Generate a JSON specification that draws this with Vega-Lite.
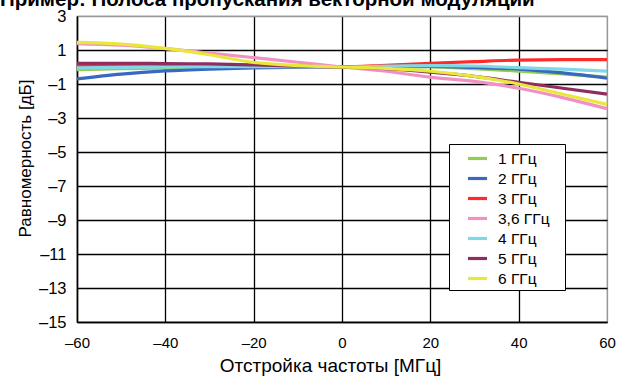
{
  "$schema": "https://vega.github.io/schema/vega-lite/v6.json",
  "width": 530,
  "height": 306,
  "autosize": {"type": "none"},
  "padding": {"left": 77, "top": 16, "right": 11, "bottom": 57},
  "background": "white",
  "title": {
    "text": "Пример: Полоса пропускания векторной модуляции",
    "anchor": "start",
    "frame": "group",
    "font": "Liberation Sans",
    "fontSize": 20.5,
    "fontWeight": "bold",
    "color": "black",
    "dx": -77,
    "offset": -2
  },
  "config": {
    "view": {"stroke": "#999", "strokeWidth": 1.2},
    "axis": {
      "labelFont": "Liberation Sans",
      "titleFont": "Liberation Sans",
      "labelColor": "black",
      "titleColor": "black",
      "titleFontWeight": "normal",
      "ticks": false,
      "domainColor": "black",
      "domainWidth": 1.5,
      "gridWidth": 1.3,
      "gridOpacity": 1
    }
  },
  "data": {
    "values": [
      {"f": -60, "v": -0.15, "s": "1 ГГц"}, {"f": -50, "v": -0.1, "s": "1 ГГц"}, {"f": -40, "v": -0.05, "s": "1 ГГц"}, {"f": -30, "v": 0, "s": "1 ГГц"}, {"f": -20, "v": 0.02, "s": "1 ГГц"}, {"f": -10, "v": 0.01, "s": "1 ГГц"}, {"f": 0, "v": 0, "s": "1 ГГц"}, {"f": 10, "v": 0, "s": "1 ГГц"}, {"f": 20, "v": 0, "s": "1 ГГц"}, {"f": 30, "v": -0.1, "s": "1 ГГц"}, {"f": 40, "v": -0.24, "s": "1 ГГц"}, {"f": 50, "v": -0.4, "s": "1 ГГц"}, {"f": 60, "v": -0.6, "s": "1 ГГц"},
      {"f": -60, "v": -0.7, "s": "2 ГГц"}, {"f": -50, "v": -0.42, "s": "2 ГГц"}, {"f": -40, "v": -0.23, "s": "2 ГГц"}, {"f": -30, "v": -0.12, "s": "2 ГГц"}, {"f": -20, "v": -0.05, "s": "2 ГГц"}, {"f": -10, "v": -0.02, "s": "2 ГГц"}, {"f": 0, "v": 0, "s": "2 ГГц"}, {"f": 10, "v": 0.02, "s": "2 ГГц"}, {"f": 20, "v": 0.03, "s": "2 ГГц"}, {"f": 30, "v": -0.03, "s": "2 ГГц"}, {"f": 40, "v": -0.12, "s": "2 ГГц"}, {"f": 50, "v": -0.35, "s": "2 ГГц"}, {"f": 60, "v": -0.66, "s": "2 ГГц"},
      {"f": -60, "v": 0.1, "s": "3 ГГц"}, {"f": -50, "v": 0.1, "s": "3 ГГц"}, {"f": -40, "v": 0.08, "s": "3 ГГц"}, {"f": -30, "v": 0.06, "s": "3 ГГц"}, {"f": -20, "v": 0.04, "s": "3 ГГц"}, {"f": -10, "v": 0.02, "s": "3 ГГц"}, {"f": 0, "v": 0, "s": "3 ГГц"}, {"f": 10, "v": 0.1, "s": "3 ГГц"}, {"f": 20, "v": 0.22, "s": "3 ГГц"}, {"f": 30, "v": 0.32, "s": "3 ГГц"}, {"f": 40, "v": 0.41, "s": "3 ГГц"}, {"f": 50, "v": 0.43, "s": "3 ГГц"}, {"f": 60, "v": 0.43, "s": "3 ГГц"},
      {"f": -60, "v": 1.38, "s": "3,6 ГГц"}, {"f": -50, "v": 1.28, "s": "3,6 ГГц"}, {"f": -40, "v": 1.08, "s": "3,6 ГГц"}, {"f": -30, "v": 0.82, "s": "3,6 ГГц"}, {"f": -20, "v": 0.55, "s": "3,6 ГГц"}, {"f": -10, "v": 0.28, "s": "3,6 ГГц"}, {"f": 0, "v": 0, "s": "3,6 ГГц"}, {"f": 10, "v": -0.25, "s": "3,6 ГГц"}, {"f": 20, "v": -0.6, "s": "3,6 ГГц"}, {"f": 30, "v": -0.85, "s": "3,6 ГГц"}, {"f": 40, "v": -1.25, "s": "3,6 ГГц"}, {"f": 50, "v": -1.8, "s": "3,6 ГГц"}, {"f": 60, "v": -2.45, "s": "3,6 ГГц"},
      {"f": -60, "v": -0.05, "s": "4 ГГц"}, {"f": -50, "v": -0.02, "s": "4 ГГц"}, {"f": -40, "v": 0, "s": "4 ГГц"}, {"f": -30, "v": 0.02, "s": "4 ГГц"}, {"f": -20, "v": 0.02, "s": "4 ГГц"}, {"f": -10, "v": 0.01, "s": "4 ГГц"}, {"f": 0, "v": 0, "s": "4 ГГц"}, {"f": 10, "v": 0.05, "s": "4 ГГц"}, {"f": 20, "v": 0.08, "s": "4 ГГц"}, {"f": 30, "v": 0.06, "s": "4 ГГц"}, {"f": 40, "v": -0.04, "s": "4 ГГц"}, {"f": 50, "v": -0.13, "s": "4 ГГц"}, {"f": 60, "v": -0.25, "s": "4 ГГц"},
      {"f": -60, "v": 0.22, "s": "5 ГГц"}, {"f": -50, "v": 0.22, "s": "5 ГГц"}, {"f": -40, "v": 0.2, "s": "5 ГГц"}, {"f": -30, "v": 0.18, "s": "5 ГГц"}, {"f": -20, "v": 0.12, "s": "5 ГГц"}, {"f": -10, "v": 0.05, "s": "5 ГГц"}, {"f": 0, "v": 0, "s": "5 ГГц"}, {"f": 10, "v": -0.1, "s": "5 ГГц"}, {"f": 20, "v": -0.3, "s": "5 ГГц"}, {"f": 30, "v": -0.55, "s": "5 ГГц"}, {"f": 40, "v": -0.9, "s": "5 ГГц"}, {"f": 50, "v": -1.25, "s": "5 ГГц"}, {"f": 60, "v": -1.6, "s": "5 ГГц"},
      {"f": -60, "v": 1.45, "s": "6 ГГц"}, {"f": -50, "v": 1.35, "s": "6 ГГц"}, {"f": -40, "v": 1.1, "s": "6 ГГц"}, {"f": -30, "v": 0.72, "s": "6 ГГц"}, {"f": -20, "v": 0.27, "s": "6 ГГц"}, {"f": -10, "v": 0.08, "s": "6 ГГц"}, {"f": 0, "v": 0, "s": "6 ГГц"}, {"f": 10, "v": -0.08, "s": "6 ГГц"}, {"f": 20, "v": -0.25, "s": "6 ГГц"}, {"f": 30, "v": -0.55, "s": "6 ГГц"}, {"f": 40, "v": -1.0, "s": "6 ГГц"}, {"f": 50, "v": -1.6, "s": "6 ГГц"}, {"f": 60, "v": -2.2, "s": "6 ГГц"}
    ]
  },
  "mark": {"type": "line", "strokeWidth": 3.2, "interpolate": "monotone"},
  "encoding": {
    "x": {
      "field": "f",
      "type": "quantitative",
      "scale": {"domain": [-60, 60], "nice": false},
      "axis": {
        "values": [-60, -40, -20, 0, 20, 40, 60],
        "title": "Отстройка частоты [МГц]",
        "labelFontSize": 15,
        "titleFontSize": 19,
        "labelPadding": 13,
        "titlePadding": 6,
        "titleX": 253,
        "titleAlign": "center",
        "labelFlush": false,
        "gridColor": {"condition": {"test": "datum.value == 60", "value": "#999"}, "value": "black"},
        "labelExpr": "datum.value < 0 ? '–' + abs(datum.value) : datum.label"
      }
    },
    "y": {
      "field": "v",
      "type": "quantitative",
      "scale": {"domain": [-15, 3], "nice": false},
      "axis": {
        "values": [3, 1, -1, -3, -5, -7, -9, -11, -13, -15],
        "title": "Равномерность [дБ]",
        "labelFontSize": 16.5,
        "titleFontSize": 17,
        "labelPadding": 11,
        "titlePadding": 4,
        "titleY": 142,
        "gridColor": {"condition": {"test": "datum.value == 3", "value": "#999"}, "value": "black"},
        "labelExpr": "datum.value < 0 ? '–' + abs(datum.value) : datum.label"
      }
    },
    "color": {
      "field": "s",
      "type": "nominal",
      "scale": {
        "domain": ["1 ГГц", "2 ГГц", "3 ГГц", "3,6 ГГц", "4 ГГц", "5 ГГц", "6 ГГц"],
        "range": ["#92cc50", "#3a68c0", "#ff2a2a", "#f290c4", "#80d8e6", "#8e2e60", "#e8e83a"]
      },
      "legend": {
        "title": "\u00a0",
        "titleOrient": "right",
        "titleFontSize": 6,
        "titlePadding": 12,
        "orient": "none",
        "legendX": 372,
        "legendY": 128,
        "fillColor": "white",
        "strokeColor": "black",
        "padding": 3,
        "symbolType": "stroke",
        "symbolStrokeWidth": 3.2,
        "symbolSize": 361,
        "symbolOffset": 14,
        "labelOffset": 9,
        "labelFont": "Liberation Sans",
        "labelFontSize": 15.5,
        "labelColor": "black",
        "rowPadding": 0
      }
    }
  }
}
